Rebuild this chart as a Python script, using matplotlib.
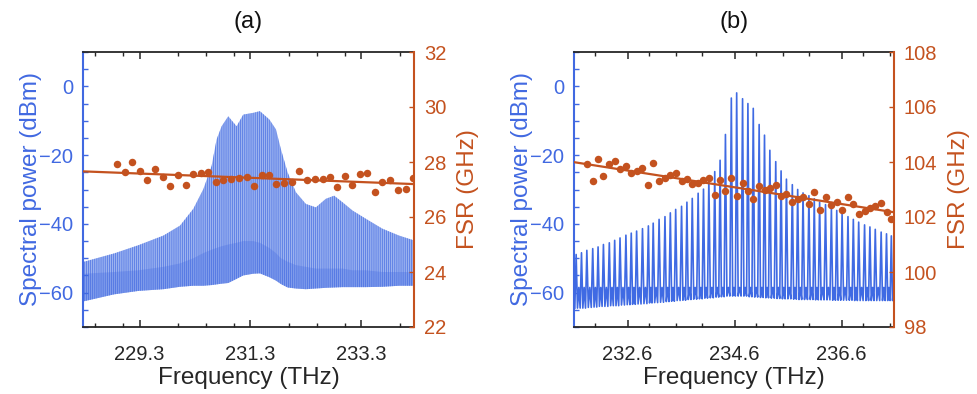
import numpy as np
import matplotlib
matplotlib.use("Agg")
import matplotlib.pyplot as plt
from matplotlib.ticker import FixedLocator, MultipleLocator, NullFormatter

plt.rcParams['font.family'] = ['Liberation Sans', 'DejaVu Sans']
plt.rcParams['hatch.linewidth'] = 0.45

BLUE = '#4169E1'
ORANGE = '#C4521F'
GRAY = '#262626'

# ---------------- Panel (a) data ----------------
a_env_freq = [228.30, 228.84, 229.28, 229.73, 230.03, 230.27, 230.45, 230.60, 230.69, 230.78,
              230.90, 231.05, 231.17, 231.35, 231.47, 231.64, 231.76, 231.85, 231.97, 232.12,
              232.30, 232.48, 232.66, 232.81, 232.96, 233.14, 233.38, 233.68, 233.98, 234.25]
a_env_top = [-51.0, -48.6, -46.2, -43.4, -40.5, -35.6, -29.9, -23.1, -15.4, -11.6,
             -8.7, -11.6, -8.2, -7.7, -7.2, -9.6, -12.5, -18.3, -25.0, -30.8,
             -34.2, -35.2, -32.7, -31.8, -33.7, -36.1, -38.5, -41.4, -43.4, -44.8]
a_env_floor = [-54.5, -54.0, -53.5, -52.5, -51.5, -50.0, -48.5, -47.5, -47.0, -46.5,
               -46.0, -45.5, -45.0, -45.0, -45.5, -47.0, -48.5, -50.0, -51.0, -52.0,
               -52.5, -53.0, -53.0, -53.0, -53.0, -53.5, -53.5, -54.0, -54.0, -54.0]
a_env_bottom = [-62.5, -60.5, -59.5, -59.0, -58.3, -58.0, -58.0, -57.8, -57.6, -57.4,
                -57.2, -56.0, -55.0, -54.5, -54.4, -55.5, -56.5, -57.5, -58.5, -58.8,
                -59.0, -58.8, -58.6, -58.5, -58.4, -58.4, -58.4, -58.3, -58.0, -58.0]

a_fsr_freq = [228.89, 229.03, 229.17, 229.31, 229.44, 229.58, 229.72, 229.85, 229.99, 230.13,
              230.26, 230.40, 230.54, 230.68, 230.81, 230.95, 231.09, 231.23, 231.36, 231.50,
              231.63, 231.77, 231.91, 232.05, 232.18, 232.32, 232.46, 232.60, 232.73, 232.86,
              233.00, 233.14, 233.28, 233.41, 233.55, 233.68, 233.82, 233.96, 234.10, 234.23]
a_fsr = [27.92, 27.62, 27.99, 27.68, 27.35, 27.75, 27.44, 27.11, 27.51, 27.17,
         27.56, 27.61, 27.63, 27.29, 27.34, 27.38, 27.42, 27.44, 27.11, 27.51,
         27.54, 27.21, 27.25, 27.27, 27.67, 27.33, 27.37, 27.40, 27.44, 27.10,
         27.50, 27.17, 27.56, 27.60, 26.90, 27.29, 27.33, 26.99, 27.02, 27.43]

# ---------------- Panel (b) data ----------------
b_line_freq = [231.64, 231.74, 231.84, 231.95, 232.05, 232.15, 232.26, 232.36, 232.46, 232.57,
               232.67, 232.77, 232.88, 232.99, 233.08, 233.19, 233.30, 233.40, 233.50, 233.61,
               233.71, 233.81, 233.92, 234.02, 234.12, 234.23, 234.33, 234.43, 234.54, 234.64,
               234.75, 234.85, 234.95, 235.06, 235.16, 235.26, 235.37, 235.47, 235.57, 235.68,
               235.78, 235.88, 235.99, 236.09, 236.19, 236.30, 236.41, 236.51, 236.61, 236.72,
               236.82, 236.92, 237.03, 237.13, 237.23, 237.34, 237.44, 237.53]
b_line_peak = [-48.9, -48.4, -47.7, -47.2, -46.7, -46.0, -45.5, -44.8, -44.1, -43.3,
               -42.7, -42.1, -41.4, -40.6, -39.8, -38.7, -37.9, -36.8, -35.8, -34.9,
               -33.7, -32.6, -31.1, -29.9, -27.0, -24.8, -21.5, -14.0, -3.4, -1.9,
               -3.6, -5.0, -6.4, -11.1, -14.2, -18.6, -21.9, -24.6, -27.0, -28.6,
               -30.0, -31.0, -31.8, -32.7, -33.7, -34.4, -35.3, -36.1, -37.1, -37.9,
               -38.7, -39.5, -40.3, -40.9, -41.6, -42.4, -42.9, -43.5]
b_line_trough = [-64.5, -64.5, -64.3, -64.2, -64.0, -64.0, -63.8, -63.8, -63.6, -63.5,
                 -63.4, -63.3, -63.2, -63.0, -62.9, -62.8, -62.6, -62.5, -62.3, -62.2,
                 -62.0, -61.9, -61.8, -61.6, -61.5, -61.3, -61.2, -61.0, -61.0, -61.0,
                 -61.0, -61.2, -61.3, -61.4, -61.5, -61.6, -61.7, -61.8, -61.8, -61.9,
                 -62.0, -62.0, -62.0, -62.1, -62.1, -62.1, -62.2, -62.2, -62.2, -62.2,
                 -62.3, -62.3, -62.3, -62.3, -62.3, -62.3, -62.3, -62.3]
b_line_bump = -58.5

b_fsr_freq = b_line_freq[2:]
b_fsr = [103.92, 103.31, 104.11, 103.50, 103.92, 104.03, 103.75, 103.87, 103.60, 103.69,
         103.78, 103.15, 103.96, 103.32, 103.43, 103.52, 103.61, 103.32, 103.40, 103.21,
         103.25, 103.33, 103.42, 102.79, 103.35, 102.95, 103.42, 102.77, 103.22, 102.95,
         102.67, 103.14, 102.97, 103.07, 103.17, 102.75, 102.84, 102.56, 102.65, 102.74,
         102.48, 102.91, 102.26, 102.73, 102.45, 102.55, 102.25, 102.72, 102.48, 102.12,
         102.21, 102.32, 102.40, 102.50, 102.20, 101.92]

# axis settings
a_xlim = (228.28, 234.25)
b_xlim = (231.60, 237.58)
a_xmajor = [229.3, 231.3, 233.3]
b_xmajor = [232.6, 234.6, 236.6]
a_fsr_lim = (22, 32)
b_fsr_lim = (98, 108)
p_lim = (-70, 10)

W, H = 977, 394
fig = plt.figure(figsize=(W / 100, H / 100), dpi=100)


def add_ax(l, r, t, b):
    return fig.add_axes([l / W, 1 - b / H, (r - l) / W, (b - t) / H])


axA = add_ax(83, 414, 52, 327)
axB = add_ax(574, 894, 52, 327)


def style(ax, xlim, xmajor, fsr_lim, title):
    ax.set_xlim(*xlim)
    ax.set_ylim(*p_lim)
    ax.xaxis.set_major_locator(FixedLocator(xmajor))
    ax.set_xticklabels([f"{v:.1f}" for v in xmajor])
    minors = [m for m in np.arange(np.ceil(xlim[0] * 2) / 2, xlim[1], 0.5)
              if min(abs(m - v) for v in xmajor) > 0.25]
    ax.xaxis.set_minor_locator(FixedLocator(minors))
    ax.xaxis.set_minor_formatter(NullFormatter())
    ax.yaxis.set_major_locator(FixedLocator([-60, -40, -20, 0]))
    ax.yaxis.set_minor_locator(MultipleLocator(5))
    ax.tick_params(axis='x', which='both', direction='in', top=True, bottom=True,
                   color=GRAY, labelcolor=GRAY, labelsize=14.5, pad=13)
    ax.tick_params(axis='x', which='major', length=5, width=1.1)
    ax.tick_params(axis='x', which='minor', length=3, width=1.0)
    ax.tick_params(axis='y', which='both', direction='in', left=True, right=False,
                   color=BLUE, labelcolor=BLUE, labelsize=14.5, length=3.5, width=1.0, pad=7)
    for s in ['top', 'bottom']:
        ax.spines[s].set_color(GRAY)
        ax.spines[s].set_linewidth(1.3)
    ax.spines['left'].set_color(BLUE)
    ax.spines['left'].set_linewidth(1.5)
    ax.spines['right'].set_visible(False)
    ax.set_xlabel('Frequency (THz)', fontsize=17.5, color=GRAY, labelpad=2)
    ax.set_ylabel('Spectral power (dBm)', fontsize=17.5, color=BLUE, labelpad=-2)
    ax.set_title(title, fontsize=17, color='#111111', pad=17)

    ax2 = ax.twinx()
    ax2.set_ylim(*fsr_lim)
    ax2.yaxis.set_major_locator(MultipleLocator(2))
    ax2.tick_params(axis='y', direction='in', color=ORANGE, labelcolor=ORANGE,
                    labelsize=14.5, length=3.5, width=1.0, pad=7)
    ax2.spines['right'].set_color(ORANGE)
    ax2.spines['right'].set_linewidth(1.5)
    ax2.spines['left'].set_visible(False)
    ax2.spines['top'].set_visible(False)
    ax2.spines['bottom'].set_visible(False)
    ax2.set_ylabel('FSR (GHz)', fontsize=17.5, color=ORANGE, labelpad=8)
    return ax2


# ---- Panel (a) spectrum ----
axA.fill_between(a_env_freq, a_env_bottom, a_env_top, facecolor='#9cb3f0',
                 edgecolor=BLUE, hatch='||||||||', linewidth=0, zorder=1)
axA.fill_between(a_env_freq, a_env_bottom, a_env_floor, facecolor=BLUE,
                 edgecolor='none', linewidth=0, alpha=0.3, zorder=2)
axA2 = style(axA, a_xlim, a_xmajor, a_fsr_lim, '(a)')
axA2.plot(a_fsr_freq, a_fsr, 'o', color=ORANGE, markersize=5.4, markeredgewidth=0)
ca = np.polyfit(a_fsr_freq, a_fsr, 1)
axA2.plot(a_xlim, np.polyval(ca, a_xlim), '-', color=ORANGE, linewidth=1.6)

# ---- Panel (b) spectrum ----
bx, by = [], []
n = len(b_line_freq)
for i in range(n):
    f = b_line_freq[i]
    gap = (b_line_freq[i + 1] - f) if i < n - 1 else (f - b_line_freq[i - 1])
    if i == 0:
        bx += [f - 0.25 * gap]
        by += [b_line_trough[i]]
    bx += [f, f + 0.25 * gap, f + 0.5 * gap, f + 0.75 * gap]
    by += [b_line_peak[i], b_line_trough[i], b_line_bump, b_line_trough[i]]
axB.plot(bx, by, '-', color='#3F6AE3', linewidth=1.2, zorder=2)
axB2 = style(axB, b_xlim, b_xmajor, b_fsr_lim, '(b)')
axB2.plot(b_fsr_freq, b_fsr, 'o', color=ORANGE, markersize=5.4, markeredgewidth=0)
cb = np.polyfit(b_fsr_freq, b_fsr, 1)
axB2.plot(b_xlim, np.polyval(cb, b_xlim), '-', color=ORANGE, linewidth=1.6)

fig.savefig('out.png', dpi=100)
